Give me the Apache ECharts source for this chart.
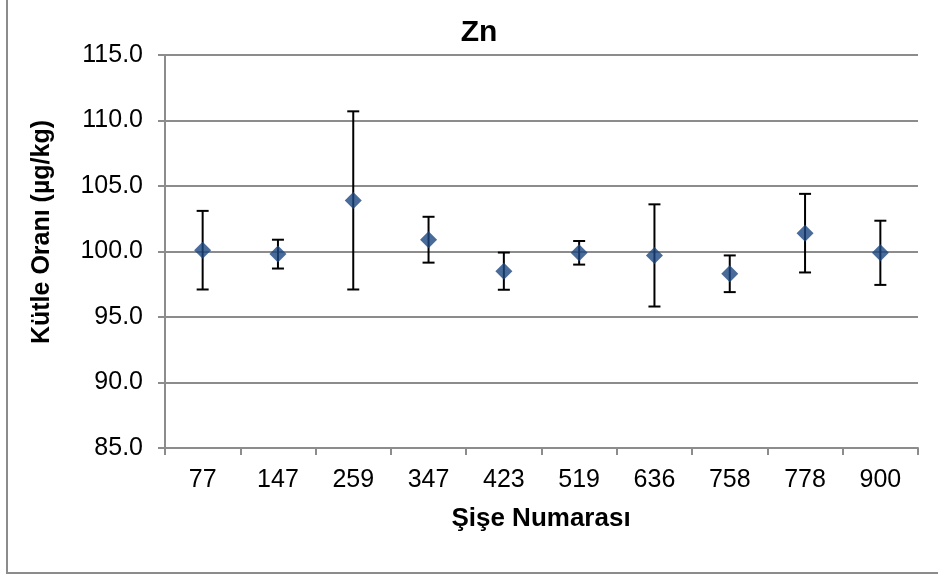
<!DOCTYPE html>
<html>
<head>
<meta charset="utf-8">
<script src="https://cdn.jsdelivr.net/npm/echarts@6/dist/echarts.min.js"></script>
<style>html,body{margin:0;padding:0;background:#fff;}#c{width:938px;height:575px;}</style>
</head>
<body>
<div id="c"></div>
<script>
var categories = ['77','147','259','347','423','519','636','758','778','900'];
var values = [100.1, 99.8, 103.9, 100.9, 98.5, 99.9, 99.7, 98.3, 101.4, 99.9];
var errors = [3.0, 1.1, 6.8, 1.75, 1.42, 0.9, 3.9, 1.4, 3.0, 2.45];
var yTicks = [85, 90, 95, 100, 105, 110, 115];

var errData = values.map(function (v, i) { return [i, v - errors[i], v + errors[i]]; });

var chart = echarts.init(document.getElementById('c'), null, {renderer: 'canvas'});
var font = 'Liberation Sans, Arial, sans-serif';
var gray = '#8c8c8c';

chart.setOption({
  animation: false,
  backgroundColor: '#fff',
  grid: {left: 165, right: 20, top: 55, bottom: 127},
  xAxis: {
    type: 'category',
    data: categories,
    boundaryGap: true,
    axisLine: {lineStyle: {color: gray, width: 2}},
    axisTick: {show: true, length: 7, lineStyle: {color: gray, width: 2}},
    axisLabel: {color: '#000', fontSize: 25, fontFamily: font, margin: 20},
    splitLine: {show: false}
  },
  yAxis: {
    type: 'value',
    min: yTicks[0],
    max: yTicks[yTicks.length - 1],
    interval: 5,
    axisLine: {show: true, lineStyle: {color: gray, width: 2}},
    axisTick: {show: true, length: 7, lineStyle: {color: gray, width: 2}},
    axisLabel: {color: '#000', fontSize: 25, fontFamily: font, margin: 22,
      formatter: function (v) { return v.toFixed(1); }},
    splitLine: {show: true, lineStyle: {color: gray, width: 2}}
  },
  graphic: [
    {type: 'rect', shape: {x: 7, y: -10, width: 1000, height: 583}, style: {fill: 'none', stroke: gray, lineWidth: 2}, silent: true},
    {type: 'text', x: 479, y: 33, style: {text: 'Zn', font: 'bold 30px ' + font, fill: '#000', textAlign: 'center', textVerticalAlign: 'middle'}},
    {type: 'text', x: 541, y: 519, style: {text: 'Şişe Numarası', font: 'bold 26px ' + font, fill: '#000', textAlign: 'center', textVerticalAlign: 'middle'}},
    {type: 'text', x: 42, y: 232, rotation: Math.PI / 2, style: {text: 'Kütle Oranı (µg/kg)', font: 'bold 25px ' + font, fill: '#000', textAlign: 'center', textVerticalAlign: 'middle'}}
  ],
  series: [
    {
      type: 'custom',
      data: errData,
      z: 2,
      renderItem: function (params, api) {
        var x = api.value(0);
        var lo = api.coord([x, api.value(1)]);
        var hi = api.coord([x, api.value(2)]);
        var hw = 6;
        var st = {stroke: '#000', lineWidth: 2};
        return {
          type: 'group',
          children: [
            {type: 'line', shape: {x1: lo[0], y1: lo[1], x2: hi[0], y2: hi[1]}, style: st},
            {type: 'line', shape: {x1: hi[0] - hw, y1: hi[1], x2: hi[0] + hw, y2: hi[1]}, style: st},
            {type: 'line', shape: {x1: lo[0] - hw, y1: lo[1], x2: lo[0] + hw, y2: lo[1]}, style: st}
          ]
        };
      }
    },
    {
      type: 'scatter',
      data: values,
      z: 5,
      symbol: 'diamond',
      symbolSize: [17, 17],
      itemStyle: {color: '#1C4680'}
    }
  ]
});
</script>
</body>
</html>
